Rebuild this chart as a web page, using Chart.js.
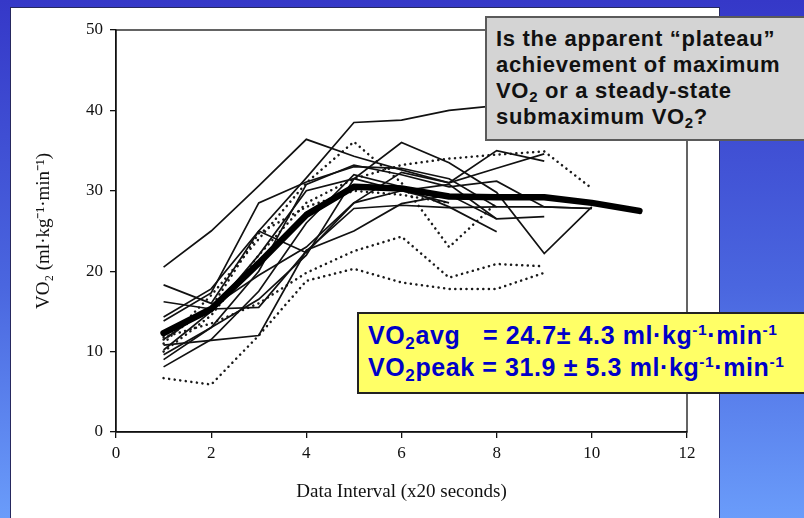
<!DOCTYPE html>
<html>
<head>
<meta charset="utf-8">
<script src="https://cdn.jsdelivr.net/npm/chart.js@4.4.1/dist/chart.umd.min.js"></script>
<style>
  html, body { margin: 0; padding: 0; }
  body {
    width: 804px; height: 518px; overflow: hidden; position: relative;
    background: linear-gradient(to bottom, #3538c8 0%, #4a66df 55%, #6a9cfa 100%);
  }
  .panel { position: absolute; left: 10px; top: 7px; width: 708px; height: 520px; background: #fff; border: 1px solid #26285e; }
  #chart { position: absolute; left: 0; top: 0; }
  .note { position: absolute; font-family: "Liberation Sans", Arial, sans-serif; font-weight: bold; white-space: pre; box-sizing: border-box; letter-spacing: 0.5px; }
  .gray { left: 485px; top: 16px; width: 340px; height: 125px; background: #d4d4d4; border: 2px solid #5a5a5a; color: #111; font-size: 22px; line-height: 26px; padding: 8px 0 0 9px; letter-spacing: 0.7px; }
  .yellow { left: 357px; top: 312px; width: 470px; height: 82px; background: #ffff66; border: 2px solid #222; color: #0000c8; font-size: 25px; line-height: 32px; padding: 5px 0 0 9px; letter-spacing: 0.6px; }
  sub { font-size: 0.68em; vertical-align: -0.3em; line-height: 0; }
  sup { font-size: 0.62em; vertical-align: 0.55em; line-height: 0; }
</style>
</head>
<body>
<div class="panel"></div>
<canvas id="chart" width="804" height="518"></canvas>
<div class="note gray">Is the apparent “plateau”
achievement of maximum
VO<sub>2</sub> or a steady-state
submaximum VO<sub>2</sub>?</div>
<div class="note yellow">VO<sub>2</sub>avg   = 24.7± 4.3 ml·kg<sup>-1</sup>·min<sup>-1</sup>
VO<sub>2</sub>peak = 31.9 ± 5.3 ml·kg<sup>-1</sup>·min<sup>-1</sup></div>

<script>
// ─── Dados ──────────────────────────────────────────────────────────────────

const xValues = [1, 2, 3, 4, 5, 6, 7, 8, 9, 10, 11];
const xTicks = [0, 2, 4, 6, 8, 10, 12];
const yTicks = [0, 10, 20, 30, 40, 50];

// média do grupo (linha grossa)
const meanVO2 = [12.3, 15.3, 21.0, 27.0, 30.5, 30.3, 29.3, 29.2, 29.2, 28.5, 27.5];

// sujeitos - linha contínua
const s1 = [20.5, 25.0, 30.6, 36.4, 34.3, 32.6, 31.0, 35.0, 33.7];
const s2 = [14.3, 17.8, 25.0, 31.6, 38.5, 38.8, 40.0, 40.6, 41.0];
const s3 = [18.3, 16.0, 25.0, 22.3, 28.5, 32.3, 31.0, 32.8, 34.6];
const s4 = [16.2, 15.3, 15.5, 22.5, 27.8, 28.2, 27.9, 28.0];
const s5 = [10.8, 11.4, 12.0, 22.6, 25.0, 28.4, 29.5, 26.5, 26.8];
const s6 = [13.8, 17.3, 28.5, 31.1, 33.0, 32.8, 31.5, 28.0, 28.0, 27.8];
const s7 = [9.6, 13.0, 20.0, 30.8, 33.2, 32.0, 30.5, 31.2, 28.0, 27.8];
const s8 = [8.1, 11.5, 17.5, 26.0, 32.0, 30.5, 28.0, 24.9];
const s9 = [10.2, 15.0, 22.0, 30.0, 31.5, 30.0, 30.8, 26.5];
const s10 = [9.0, 13.0, 16.5, 22.0, 31.5, 36.0, 33.5, 29.8, 22.2, 28.0];
const s11 = [11.5, 15.5, 19.5, 23.0, 28.5, 30.0, 28.5];

// sujeitos - linha pontilhada
const d1 = [6.7, 5.9, 12.0, 18.8, 20.3, 18.6, 17.8, 17.8, 19.8];
const d2 = [11.8, 13.5, 16.0, 19.8, 22.5, 24.3, 19.2, 20.9, 20.6];
const d3 = [11.0, 17.0, 24.0, 31.0, 36.1, 31.0, 23.0, 28.5];
const d4 = [10.0, 14.5, 22.0, 28.5, 31.5, 33.2, 34.0, 34.5, 34.9, 30.3];
const d5 = [11.5, 15.5, 24.7, 28.0, 30.0, 29.5, 28.5];

const solidSubjects = [s1, s2, s3, s4, s5, s6, s7, s8, s9, s10, s11];
const dottedSubjects = [d1, d2, d3, d4, d5];

// ─── Helpers ────────────────────────────────────────────────────────────────

function toPoints(values) {
  return values.map((y, i) => ({ x: xValues[i], y }));
}

const INK = '#111';
const SERIF = "'Liberation Serif', 'Times New Roman', serif";

function buildDatasets() {
  const sets = [{
    data: toPoints(meanVO2),
    borderColor: '#000',
    borderWidth: 6.5,
    borderCapStyle: 'round',
    borderJoinStyle: 'round',
    pointRadius: 0,
    tension: 0,
  }];
  solidSubjects.forEach(v => sets.push({
    data: toPoints(v),
    borderColor: INK,
    borderWidth: 1.7,
    pointRadius: 0,
    tension: 0,
  }));
  dottedSubjects.forEach(v => sets.push({
    data: toPoints(v),
    borderColor: '#1a1a1a',
    borderWidth: 2.5,
    borderDash: [0.1, 5.5],
    borderCapStyle: 'round',
    pointRadius: 0,
    tension: 0,
  }));
  return sets;
}

// moldura completa do gráfico (topo e direita também)
const framePlugin = {
  id: 'frame',
  beforeDatasetsDraw(chart) {
    const { ctx, chartArea: a } = chart;
    ctx.save();
    ctx.strokeStyle = INK;
    ctx.lineWidth = 1.3;
    ctx.strokeRect(a.left, a.top, a.right - a.left, a.bottom - a.top);
    ctx.restore();
  }
};

function axisTicks(values) {
  return scale => {
    scale.ticks = values.map(v => ({ value: v }));
  };
}

// ─── Gráfico ────────────────────────────────────────────────────────────────

new Chart(document.getElementById('chart').getContext('2d'), {
  type: 'line',
  data: { datasets: buildDatasets() },
  plugins: [framePlugin],
  options: {
    responsive: false,
    animation: false,
    devicePixelRatio: 1,
    layout: { padding: { left: 0, right: 117, top: 30, bottom: 0 } },
    plugins: { legend: { display: false }, tooltip: { enabled: false } },
    scales: {
      x: {
        type: 'linear',
        min: 0,
        max: 12,
        afterBuildTicks: axisTicks(xTicks),
        afterFit: s => { s.height = 86; },
        ticks: { color: INK, font: { family: SERIF, size: 17 }, padding: 5, maxRotation: 0 },
        grid: { drawOnChartArea: false, drawTicks: true, tickLength: 6, color: INK, lineWidth: 1.3 },
        border: { display: true, color: INK, width: 1.4 },
        title: {
          display: true,
          text: 'Data Interval (x20 seconds)',
          color: INK,
          font: { family: SERIF, size: 19 },
          padding: { top: 4, bottom: 15 },
        },
      },
      y: {
        min: 0,
        max: 50,
        afterBuildTicks: axisTicks(yTicks),
        afterFit: s => { s.width = 116; },
        ticks: { color: INK, font: { family: SERIF, size: 17 }, padding: 7 },
        grid: { drawOnChartArea: false, drawTicks: true, tickLength: 6, color: INK, lineWidth: 1.3 },
        border: { display: true, color: INK, width: 1.4 },
        title: {
          display: true,
          text: 'VO₂ (ml·kg⁻¹·min⁻¹)',
          color: INK,
          font: { family: SERIF, size: 19 },
          padding: { top: 33, bottom: 0 },
        },
      },
    },
  },
});
</script>
</body>
</html>
